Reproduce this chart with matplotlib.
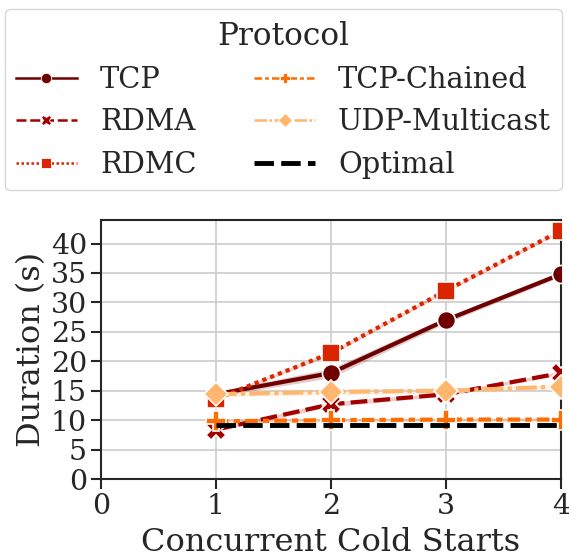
import matplotlib.pyplot as plt
from matplotlib.lines import Line2D
import numpy as np

plt.rcParams['font.family'] = ['DejaVu Serif']

# cold start durations (s) per protocol
cold_starts = [1, 2, 3, 4]
tcp = [14.4, 18.0, 27.0, 34.8]
rdma = [8.4, 12.7, 14.4, 18.0]
rdmc = [13.6, 21.4, 32.0, 42.2]
tcp_chained = [9.8, 10.0, 10.1, 10.1]
udp_multicast = [14.4, 14.8, 15.0, 15.7]
optimal = [9.2, 9.2, 9.2, 9.2]

# half-width of the confidence band around each mean
tcp_ci = [0.4, 0.8, 0.5, 0.4]
rdma_ci = [0.3, 0.4, 0.3, 0.3]
rdmc_ci = [0.3, 0.3, 0.3, 0.3]
tcp_chained_ci = [0.3, 0.3, 0.3, 0.3]
udp_multicast_ci = [0.4, 0.5, 0.4, 0.4]

cmap = plt.get_cmap('gist_heat')
series = [
    ('TCP', tcp, tcp_ci, cmap(2 / 7), '', 'o', 13),
    ('RDMA', rdma, rdma_ci, cmap(3 / 7), (4, 1.5), 'X', 14),
    ('RDMC', rdmc, rdmc_ci, cmap(4 / 7), (1, 1), 's', 13),
    ('TCP-Chained', tcp_chained, tcp_chained_ci, cmap(5 / 7), (3, 1.25, 1.5, 1.25), 'P', 14),
    ('UDP-Multicast', udp_multicast, udp_multicast_ci, cmap(6 / 7), (5, 1, 1, 1), 'D', 12),
]
text_color = '#262626'

fig = plt.figure(figsize=(5.69, 5.58), dpi=100)
ax = fig.add_axes([101 / 569, 1 - 479 / 558, 460 / 569, 259 / 558])

handles = []
for name, vals, ci, color, dash, marker, size in series:
    vals = np.array(vals)
    ci = np.array(ci)
    ax.fill_between(cold_starts, vals - ci, vals + ci, color=color, alpha=0.2, lw=0)
    line, = ax.plot(cold_starts, vals, color=color, lw=3, marker=marker, ms=size,
                    mec='white', mew=1.2, zorder=3)
    if dash:
        line.set_dashes(dash)
    # thinner proxy for the legend
    h = Line2D([], [], color=color, lw=1.8, marker=marker, ms=7.5,
               mec='white', mew=0.6, label=name)
    if dash:
        h.set_dashes(dash)
    handles.append(h)

ax.plot(cold_starts, optimal, color='black', lw=3.5, dashes=(4, 1.5), zorder=3)
handles.append(Line2D([], [], color='black', lw=3.5, dashes=(4, 1.5), label='Optimal'))

ax.set_xlim(0, 4)
ax.set_ylim(0, 44)
ax.set_xticks([0, 1, 2, 3, 4])
ax.set_yticks(range(0, 45, 5))
ax.grid(True, color='#cccccc', lw=1.2)
ax.set_axisbelow(True)
for s in ax.spines.values():
    s.set_color(text_color)
    s.set_linewidth(1.5)
ax.tick_params(labelsize=20.5, width=1.5, length=7, pad=3, color=text_color,
               labelcolor=text_color)
ax.set_xlabel('Concurrent Cold Starts', fontsize=23, color=text_color, labelpad=5)
ax.set_ylabel('Duration (s)', fontsize=23, color=text_color, labelpad=3)

leg = fig.legend(handles=handles, title='Protocol', ncol=2, loc='upper center',
                 bbox_to_anchor=(283.5 / 569, 1 - 9 / 558), borderaxespad=0,
                 fontsize=20.8, title_fontsize=22.5, handlelength=2.1,
                 frameon=True, fancybox=True, edgecolor='#cccccc')
leg.get_title().set_color(text_color)
for t in leg.get_texts():
    t.set_color(text_color)

fig.savefig('out.png', dpi=100)
